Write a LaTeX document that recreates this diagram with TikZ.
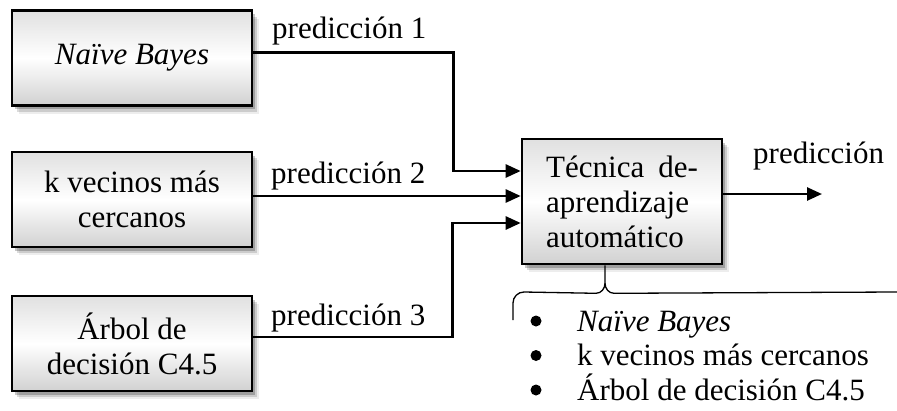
\documentclass[tikz,border=0pt]{standalone}
\usepackage{fontspec}
\setmainfont{Liberation Serif}
\usetikzlibrary{arrows.meta,shadows,calc}
\newcommand{\fsz}{\fontsize{31}{35}\selectfont}
\tikzset{
  shd/.style={
    drop shadow={shadow xshift=2.5pt,shadow yshift=-3.5pt,opacity=0.22,fill=black},
    drop shadow={shadow xshift=4.5pt,shadow yshift=-6pt,opacity=0.14,fill=black},
    drop shadow={shadow xshift=6.5pt,shadow yshift=-8pt,opacity=0.07,fill=black}},
  box/.style={draw=black, line width=2.6pt, align=center, inner sep=0pt,
    top color=gray!24, bottom color=gray!36, middle color=white, font=\fsz, shd},
  arr/.style={draw=black, line width=2.6pt, -{Triangle[length=15pt,width=13pt]}},
  lbl/.style={font=\fsz, inner sep=0pt, anchor=base west},
  brace/.style={draw=black, line width=1.3pt},
  bul/.style={circle, fill=black, inner sep=0pt, minimum size=11pt}
}
\begin{document}
\begin{tikzpicture}[x=1pt,y=-1pt]
\useasboundingbox (0,0) rectangle (897,410);
% source boxes
\node[box, minimum width=240pt, minimum height=95pt] (b1) at (132,58) {\itshape Naïve Bayes};
\node[box, minimum width=240pt, minimum height=95pt] (b2) at (132,199.5) {k vecinos más\\cercanos};
\node[box, minimum width=240pt, minimum height=95pt] (b3) at (132,343.5) {Árbol de\\decisión C4.5};
% central box
\node[box, minimum width=200pt, minimum height=125pt, align=left] (tech) at (622,201.5)
  {Técnica\hspace{14pt}de-\\aprendizaje\\automático};
% entry points
\coordinate (in1) at ([yshift=30.5pt]tech.west);
\coordinate (in2) at ([yshift=5.5pt]tech.west);
\coordinate (in3) at ([yshift=-21.5pt]tech.west);
\coordinate (out) at (822,194);
% connectors
\draw[arr] ([yshift=5.5pt]b1.east) -- ++(200,0) |- (in1);
\draw[arr] (b2.east |- in2) -- (in2);
\draw[arr] ([yshift=6.5pt]b3.east) -- ++(199,0) |- (in3);
\draw[arr] (tech.east |- out) -- (out);
% labels
\node[lbl] (p1) at (272,38) {predicción 1};
\node[lbl] (p2) at (271,183) {predicción 2};
\node[lbl] (p3) at (271,325) {predicción 3};
\node[lbl] (p) at (753,163) {predicción};
% brace
\coordinate (bt) at ([xshift=-17pt]tech.south);
\coordinate (bl) at (513,320);
\coordinate (br) at (897,292);
\draw[brace] (bt) -- ++(0,18) to[out=-90,in=0] ++(-9,10) -- (524,292) to[out=180,in=90] (513,303) -- (bl);
\draw[brace] ($(bt)+(0,18)$) to[out=-90,in=180] ++(9,10) -- (br);
% bullet list
\node[bul] (d1) at (536,321) {};
\node[bul] (d2) at (536,355.5) {};
\node[bul] (d3) at (536,390) {};
\node[lbl] (l1) at (577,331) {\itshape Naïve Bayes};
\node[lbl] (l2) at (577,365.5) {k vecinos más cercanos};
\node[lbl] (l3) at (577,400) {Árbol de decisión C4.5};
\end{tikzpicture}
\end{document}
